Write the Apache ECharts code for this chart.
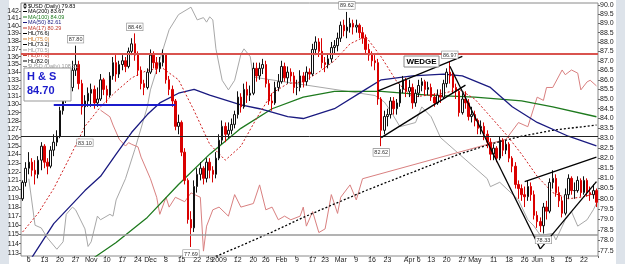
<!DOCTYPE html>
<html><head><meta charset="utf-8">
<script src="https://cdn.jsdelivr.net/npm/echarts@6.0.0/dist/echarts.min.js"></script>
<style>html,body{margin:0;padding:0;background:#fff;overflow:hidden}#c{width:625px;height:264px}</style>
</head><body><div id="c"></div><script>
// ---------- data ----------
const tradingDays = {
 '2008-10':[2,3,6,7,8,9,10,13,14,15,16,17,20,21,22,23,24,27,28,29,30,31],
 '2008-11':[3,4,5,6,7,10,11,12,13,14,17,18,19,20,21,24,25,26,28],
 '2008-12':[1,2,3,4,5,8,9,10,11,12,15,16,17,18,19,22,23,24,26,29,30,31],
 '2009-01':[2,5,6,7,8,9,12,13,14,15,16,20,21,22,23,26,27,28,29,30],
 '2009-02':[2,3,4,5,6,9,10,11,12,13,17,18,19,20,23,24,25,26,27],
 '2009-03':[2,3,4,5,6,9,10,11,12,13,16,17,18,19,20,23,24,25,26,27,30,31],
 '2009-04':[1,2,3,6,7,8,9,13,14,15,16,17,20,21,22,23,24,27,28,29,30],
 '2009-05':[1,4,5,6,7,8,11,12,13,14,15,18,19,20,21,22,26,27,28,29],
 '2009-06':[1,2,3,4,5,8,9,10,11,12,15,16,17,18,19,22,23,24,25,26]
};
const tickLabels = [['2008-10-06','6'],['2008-10-13','13'],['2008-10-20','20'],['2008-10-27','27'],['2008-11-03','Nov'],['2008-11-10','10'],['2008-11-17','17'],['2008-11-24','24'],['2008-12-01','Dec'],['2008-12-08','8'],['2008-12-15','15'],['2008-12-22','22'],['2008-12-29','29'],['2009-01-02','2009'],['2009-01-12','12'],['2009-01-20','20'],['2009-01-26','26'],['2009-02-02','Feb'],['2009-02-09','9'],['2009-02-17','17'],['2009-02-23','23'],['2009-03-02','Mar'],['2009-03-09','9'],['2009-03-16','16'],['2009-03-23','23'],['2009-04-01','Apr'],['2009-04-06','6'],['2009-04-13','13'],['2009-04-20','20'],['2009-04-27','27'],['2009-05-01','May'],['2009-05-11','11'],['2009-05-18','18'],['2009-05-26','26'],['2009-06-01','Jun'],['2009-06-08','8'],['2009-06-15','15'],['2009-06-22','22']];
const rightTicks = [77.5,78.0,78.5,79.0,79.5,80.0,80.5,81.0,81.5,82.0,82.5,83.0,83.5,84.0,84.5,85.0,85.5,86.0,86.5,87.0,87.5,88.0,88.5,89.0,89.5,90.0];
const leftTicks = [113,114,115,116,117,118,119,120,121,122,123,124,125,126,127,128,129,130,131,132,133,134,135,136,137,138,139,140,141,142];
// [open, close, low, high]
const ohlc = [
[80.0,80.8,79.9,80.9],[80.8,81.5,80.6,81.8],[81.5,81.8,81.2,82.3],[81.8,81.4,81.1,82.0],[81.4,81.2,80.7,81.9],[81.2,81.9,81.0,82.1],[81.9,82.6,81.4,82.8],[82.6,81.8,81.5,82.7],[81.8,81.6,81.2,82.0],[81.6,82.4,81.5,82.6],
[82.4,82.8,82.1,83.2],[82.8,83.1,82.6,83.4],[83.1,84.4,83.0,84.6],[84.4,85.2,84.2,85.5],[85.2,86.0,84.8,86.3],[86.0,85.6,85.2,86.4],[85.6,86.5,85.4,87.0],[86.5,86.8,86.2,87.8],[86.8,85.8,85.5,87.0],[85.8,84.6,84.2,86.0],
[84.6,84.9,83.1,85.2],[84.9,85.3,84.6,85.6],[85.3,85.5,84.6,85.8],[85.5,84.8,84.5,85.7],[84.8,85.0,84.6,85.6],[85.0,86.0,84.9,86.3],[86.0,85.5,85.2,86.1],[85.5,85.2,84.8,85.7],[85.2,86.2,85.1,86.4],[86.2,86.9,86.0,87.2],
[86.9,86.3,85.9,87.3],[86.3,86.8,86.1,87.0],[86.8,87.0,86.5,87.3],[87.0,86.7,86.4,87.2],[86.7,87.5,86.6,87.7],[87.5,87.9,87.3,88.2],[87.9,87.3,87.0,88.46],[87.3,86.5,86.2,87.5],[86.5,85.8,85.5,86.7],[85.8,85.6,85.2,86.0],
[85.6,86.4,85.5,86.6],[86.4,87.3,86.3,87.6],[87.3,86.9,86.6,87.5],[86.9,86.6,86.3,87.2],[86.6,86.9,86.4,87.2],[86.9,87.3,86.7,87.6],[87.3,86.0,85.8,87.4],[86.0,85.5,85.2,86.2],[85.5,84.9,84.6,85.7],[84.9,83.6,83.4,85.0],
[83.6,83.8,83.2,84.2],[83.8,82.3,82.1,83.9],[82.3,80.9,80.7,82.5],[80.9,79.0,78.8,81.0],[79.0,78.6,77.69,79.4],[78.6,80.6,78.4,80.9],[80.6,81.2,80.3,81.5],[81.2,81.5,80.9,81.8],[81.5,81.0,80.7,81.6],[81.0,81.8,80.8,82.0],
[81.8,81.4,81.0,82.0],[81.4,81.2,80.8,81.6],[81.2,82.0,81.0,82.3],[82.0,82.9,81.9,83.2],[82.9,83.6,82.7,83.9],[83.6,83.2,82.8,83.8],[83.2,83.4,83.0,83.8],[83.4,83.7,83.2,84.0],[83.7,84.2,83.5,84.4],[84.2,85.1,84.0,85.4],
[85.1,84.6,84.3,85.3],[84.6,85.5,84.5,85.8],[85.5,85.2,84.8,85.9],[85.2,85.3,84.9,85.7],[85.3,86.6,85.2,86.9],[86.6,86.2,85.9,86.9],[86.2,86.6,86.0,86.9],[86.6,86.8,86.3,87.1],[86.8,85.8,85.6,87.0],[85.8,84.9,84.7,86.0],
[84.9,84.8,84.4,85.3],[84.8,85.6,84.7,85.9],[85.6,85.9,85.4,86.3],[85.9,86.7,85.8,87.0],[86.7,86.1,85.9,86.9],[86.1,86.4,85.8,86.7],[86.4,86.2,85.9,86.6],[86.2,85.6,85.3,86.4],[85.6,85.6,85.2,86.0],[85.6,86.2,85.4,86.5],
[86.2,85.9,85.6,86.4],[85.9,86.4,85.7,86.7],[86.4,86.3,86.0,86.6],[86.3,87.6,86.2,87.9],[87.6,88.0,87.3,88.3],[88.0,87.5,87.2,88.2],[87.5,86.9,86.6,88.2],[86.9,86.8,86.4,87.2],[86.8,87.1,86.6,87.4],[87.1,87.7,86.9,88.0],
[87.7,87.8,87.4,88.1],[87.8,88.2,87.5,88.5],[88.2,88.9,88.0,89.1],[88.9,88.6,88.3,89.2],[88.6,88.8,88.2,89.62],[88.8,89.0,88.5,89.3],[89.0,88.8,88.4,89.2],[88.8,88.9,88.5,89.2],[88.9,88.5,88.2,89.0],[88.5,88.2,87.9,88.8],
[88.2,87.6,87.4,88.4],[87.6,87.3,87.0,87.9],[87.3,87.0,86.7,87.5],[87.0,86.9,86.5,87.3],[86.9,85.0,84.7,87.1],[85.0,83.4,82.6,85.1],[83.4,84.1,83.2,84.4],[84.1,84.2,83.6,84.5],[84.2,84.9,84.0,85.1],[84.9,84.5,84.2,85.1],
[84.5,84.8,84.2,85.0],[84.8,85.5,84.6,85.8],[85.5,86.0,85.3,86.2],[86.0,85.4,85.1,86.1],[85.4,85.6,85.1,86.0],[85.6,84.8,84.5,85.8],[84.8,85.3,84.6,85.5],[85.3,85.7,85.1,86.0],[85.7,85.9,85.4,86.1],[85.9,85.5,85.2,86.0],
[85.5,85.6,85.2,85.9],[85.6,85.1,84.9,85.8],[85.1,84.8,84.6,85.3],[84.8,85.2,84.7,85.5],[85.2,85.1,84.8,85.5],[85.1,85.8,85.0,86.0],[85.8,86.4,85.6,86.6],[86.4,86.2,85.8,86.97],[86.2,85.6,85.3,86.4],[85.6,85.4,85.0,85.8],
[85.4,84.3,84.1,85.5],[84.3,85.0,84.2,85.3],[85.0,84.8,84.5,85.4],[84.8,84.1,83.9,85.0],[84.1,84.2,83.8,84.6],[84.2,83.9,83.6,84.4],[83.9,83.5,83.2,84.0],[83.5,83.6,83.2,83.9],[83.6,83.2,82.9,83.8],[83.2,82.8,82.5,83.4],
[82.8,82.2,81.9,83.0],[82.2,82.5,81.9,82.7],[82.5,82.0,81.8,82.6],[82.0,82.9,81.9,83.1],[82.9,82.4,82.1,83.0],[82.4,82.7,82.2,82.9],[82.7,82.0,81.8,82.8],[82.0,81.6,81.3,82.1],[81.6,80.7,80.5,81.8],[80.7,80.5,80.0,80.9],
[80.5,80.2,79.9,80.7],[80.2,80.1,79.6,80.6],[80.1,80.6,79.9,80.9],[80.6,80.2,79.9,80.8],[80.2,79.2,79.0,80.4],[79.2,78.9,78.6,79.4],[78.9,78.7,78.4,79.1],[78.7,79.6,78.33,79.8],[79.6,79.4,79.0,79.9],[79.4,80.8,79.3,81.0],
[80.8,81.0,80.5,81.4],[81.0,80.3,80.1,81.2],[80.3,79.9,79.6,80.6],[79.9,79.3,79.1,80.1],[79.3,80.2,79.2,80.5],[80.2,81.0,80.0,81.2],[81.0,80.4,80.2,81.1],[80.4,80.4,80.0,80.8],[80.4,80.9,80.3,81.1],[80.9,80.3,80.1,81.0],
[80.3,80.9,80.2,81.1],[80.9,80.3,80.1,81.0],[80.3,80.2,79.9,80.6],[80.2,80.4,80.0,80.7],[80.4,79.83,79.6,80.5]
];
// moving averages, read at vertices [dayIndex, value]
const ma200 = [[60,77.0],[62,77.25],[70,77.75],[80,78.4],[90,79.1],[100,79.75],[110,80.4],[120,81.0],[130,81.6],[140,82.2],[150,82.7],[160,83.1],[170,83.4],[184,83.67]];
const ma100 = [[23,77.2],[30,77.9],[40,79.1],[50,80.7],[60,82.2],[70,83.5],[80,84.5],[90,85.1],[100,85.4],[115,85.4],[130,85.2],[145,85.1],[160,84.9],[170,84.6],[184,84.09]];
const ma50 = [[3,77.2],[10,78.8],[20,80.4],[25,81.1],[30,82.2],[35,83.3],[40,84.2],[44,84.8],[50,85.3],[55,85.5],[60,85.2],[70,84.7],[76,84.5],[85,84.1],[90,84.0],[100,84.5],[110,85.5],[115,86.0],[125,86.2],[135,86.3],[141,86.2],[150,85.6],[157,84.6],[165,83.8],[175,83.1],[184,82.61]];
const ma17 = [[0,78.4],[5,79.3],[10,80.5],[15,82.0],[20,83.6],[25,84.6],[30,85.4],[35,86.1],[40,86.5],[45,86.6],[50,86.0],[55,84.4],[60,82.7],[65,81.9],[70,82.6],[75,84.0],[80,85.3],[85,85.8],[90,85.9],[95,86.4],[100,87.0],[105,87.9],[110,88.3],[115,87.2],[120,85.9],[125,85.1],[130,85.2],[135,85.3],[140,85.5],[145,85.0],[150,84.1],[155,83.2],[160,82.2],[165,81.1],[170,80.3],[175,80.0],[180,80.1],[184,80.29]];
// overlays on left scale
const greyLine = [[2,121.2],[4,116.0],[6,115.7],[8,114.6],[11,113.4],[13,114.2],[14,117.2],[16,118.0],[17,117.7],[20,115.6],[21,113.7],[22,114.2],[24,117.0],[25,116.6],[28,117.2],[29,117.0],[30,118.8],[33,121.2],[36,124.6],[40,129.7],[41,131.8],[44,135.6],[47,139.5],[50,141.5],[54,142.5],[56,140.8],[58,141.1],[59,140.5],[60,141.2],[61,140.8],[62,137.0],[64,133.0],[66,131.8],[68,133.0],[70,136.3],[71,137.0],[73,136.0],[74,133.4],
 [113,131.1],[116,130.3],[118,129.2],[121,127.3],[126,127.8],[128,129.7],[131,128.5],[134,126.0],[149,121.2],[150,120.3],[153,120.8],[159,118.8],[162,116.6],[164,115.9],[166,114.9],[170,115.1],[171,114.4],[174,116.6],[176,117.5],[178,115.9],[181,116.6],[183,117.7],[184,118.4]];
const redLine = [[25,129.3],[28,128.5],[29,127.5],[31,125.8],[33,125.0],[34,125.4],[35,125.2],[37,124.9],[38,123.7],[41,121.2],[43,119.1],[44,117.2],[46,119.1],[47,118.0],[49,119.1],[52,118.6],[54,119.6],[57,119.1],[58,113.2],[59,115.9],[61,117.7],[63,118.0],[66,117.0],[68,119.4],[70,118.0],[74,118.4],[76,120.5],[78,117.7],[80,118.0],[82,116.6],[84,117.0],[86,116.6],[89,117.0],[90,118.0],[91,115.9],[93,117.5],[95,115.2],[97,115.6],[99,119.4],[101,117.3],[102,119.1],[105,120.5],[107,118.8],[109,121.2],[155,125.8],[159,127.8],[162,127.3],[165,130.9],[167,130.5],[168,132.1],[170,132.1],[173,134.3],[174,133.7],[176,134.3],[178,133.9],[179,131.8],[181,132.8],[182,133.0],[184,132.3]];
// horizontal lines and trend lines (value space)
const hLines = [{v:87.0,c:'#d9534f',w:2},{v:82.8,c:'#222',w:1},{v:78.5,c:'#9a9a9a',w:1.5}];
const neckline = {from:10,to:49,v:84.70};
const trendLines = [[[114,85.42],[141,87.23]],[[115,83.03],[142,85.72]],[[137,86.71],[166,77.6]],[[161,80.84],[184,82.05]],[[166,77.6],[184,80.84]]];
const priceTags = [[17,87.80,'87.80','top'],[36,88.46,'88.46','top'],[104,89.62,'89.62','top'],[137,86.97,'86.97','top'],[54,77.69,'77.69','bottom'],[167,78.33,'78.33','bottom'],[20,83.10,'83.10','bottom'],[115,82.61,'82.62','bottom']];
const legendItems = [['$USD (Daily) 79.83','#000',''],['MA(200) 83.67','#000','#000'],['MA(100) 84.09','#1e7a1e','#1e7a1e'],['MA(50) 82.61','#1a1a80','#1a1a80'],['MA(17) 80.29','#c0392b','#c0392b'],['HL(76.6)','#000','#000'],['HL(75.0)','#d08030','#d08030'],['HL(73.2)','#000','#000'],['HL(70.5)','#999','#999'],['HL(87.0)','#c0392b','#c0392b'],['HL(82.0)','#000','#000'],['$USD (Daily) 108.52','#999','#999']];

// ---------- build ----------
const L = Math.log;
const dates = [];
Object.keys(tradingDays).forEach(m => tradingDays[m].forEach(d => dates.push(m + '-' + String(d).padStart(2,'0'))));
const labelMap = {}; tickLabels.forEach(t => labelMap[t[0]] = t[1]);
const candleData = ohlc.map((r, i) => {
  const prevC = i > 0 ? ohlc[i-1][1] : r[0];
  const red = r[1] < prevC;
  const col = red ? '#d90000' : '#111';
  const fill = r[1] >= r[0] ? '#ffffff' : col;
  return {value: r.map(L), itemStyle: {color: fill, color0: fill, borderColor: col, borderColor0: col}};
});
const toL = arr => arr.map(p => [p[0], L(p[1])]);
const font = 'Liberation Sans, Arial, sans-serif';

const chart = echarts.init(document.getElementById('c'), null, {renderer: 'canvas'});
const option = {
  animation: false,
  backgroundColor: '#fff',
  grid: {left: 21, right: 27, top: 3, bottom: 5, show: true, backgroundColor: '#fff', borderColor: '#8a8a8a', borderWidth: 1},
  xAxis: {type: 'category', data: dates, boundaryGap: true,
    axisLine: {show: false}, splitLine: {show: false},
    axisTick: {show: true, length: 2, inside: false, interval: (i, v) => labelMap[v] !== undefined, lineStyle: {color: '#666'}},
    axisLabel: {interval: (i, v) => labelMap[v] !== undefined, formatter: v => labelMap[v] || '', fontSize: 7, color: '#222', margin: 1, fontFamily: font}},
  yAxis: [
    {type: 'value', position: 'right', min: L(77.267), max: L(90.108), splitLine: {show: false}, axisLine: {show: false},
     axisTick: {show: true, length: 2, customValues: rightTicks.map(L), lineStyle: {color: '#666'}},
     axisLabel: {customValues: rightTicks.map(L), formatter: v => Math.exp(v).toFixed(1), fontSize: 7, color: '#222', margin: 2, fontFamily: font}},
    {type: 'value', position: 'left', min: L(112.68), max: L(143.06), splitLine: {show: false}, axisLine: {show: false},
     axisTick: {show: true, length: 2, customValues: leftTicks.map(L), lineStyle: {color: '#666'}},
     axisLabel: {customValues: leftTicks.map(L), formatter: v => String(Math.round(Math.exp(v))), fontSize: 7, color: '#222', margin: 2, fontFamily: font}}
  ],
  series: [
    {type: 'line', yAxisIndex: 1, data: toL(greyLine), showSymbol: false, lineStyle: {color: '#a8a8a8', width: 1}, z: 1, silent: true},
    {type: 'line', yAxisIndex: 1, data: toL(redLine), showSymbol: false, lineStyle: {color: '#d98080', width: 1}, z: 1, silent: true},
    {type: 'line', yAxisIndex: 0, data: toL(ma200), showSymbol: false, lineStyle: {color: '#000', width: 1.3, type: [2,2]}, z: 2, silent: true},
    {type: 'line', yAxisIndex: 0, data: toL(ma100), showSymbol: false, lineStyle: {color: '#1e7a1e', width: 1.3}, z: 2, silent: true},
    {type: 'line', yAxisIndex: 0, data: toL(ma50), showSymbol: false, lineStyle: {color: '#1a1a80', width: 1.3}, z: 2, silent: true},
    {type: 'line', yAxisIndex: 0, data: toL(ma17), showSymbol: false, lineStyle: {color: '#d02020', width: 1, type: [2,2]}, z: 2, silent: true},
    {type: 'candlestick', yAxisIndex: 0, data: candleData, barWidth: 2, z: 3, silent: true,
     markLine: {silent: true, symbol: 'none', label: {show: false}, animation: false,
       data: hLines.map(h => ({yAxis: L(h.v), lineStyle: {color: h.c, width: h.w, type: 'solid'}}))
         .concat([[{coord: [neckline.from, L(neckline.v)], lineStyle: {color: '#1c1ccc', width: 2, type: 'solid'}}, {coord: [neckline.to, L(neckline.v)]}]])
         .concat(trendLines.map(t => [{coord: [t[0][0], L(t[0][1])], lineStyle: {color: '#000', width: 1.3, type: 'solid'}}, {coord: [t[1][0], L(t[1][1])]}]))},
     markPoint: {silent: true, symbol: 'rect', symbolSize: 0,
       data: priceTags.map(p => ({coord: [p[0], L(p[1])], label: {show: true, formatter: p[2], position: p[3], distance: 3,
          fontSize: 5.5, color: '#333', backgroundColor: '#fff', borderColor: '#888', borderWidth: 0.6, padding: [1,1,0,1], fontFamily: font}}))}}
  ],
  graphic: []
};
// legend / annotations
const g = [];
g.push({type: 'rect', shape: {x: 0, y: 0, width: 9, height: 264}, style: {fill: '#dde3ea'}, silent: true});
g.push({type: 'rect', shape: {x: 616, y: 0, width: 9, height: 264}, style: {fill: '#dde3ea'}, silent: true});
// candle icon for price legend entry
g.push({type: 'line', shape: {x1: 25, y1: 3, x2: 25, y2: 9}, style: {stroke: '#000', lineWidth: 0.8}, silent: true, z: 10});
g.push({type: 'rect', shape: {x: 24, y: 4.5, width: 2, height: 3}, style: {fill: '#fff', stroke: '#000', lineWidth: 0.8}, silent: true, z: 10});
legendItems.forEach((it, k) => {
  const y = 6 + k * 5.5;
  if (it[2]) g.push({type: 'line', shape: {x1: 23, y1: y, x2: 27, y2: y}, style: {stroke: it[2], lineWidth: 1}, silent: true, z: 10});
  g.push({type: 'text', x: 28, y: y, style: {text: it[0], fill: it[1], fontSize: 5.5, fontFamily: font, verticalAlign: 'middle'}, silent: true, z: 10});
});
g.push({type: 'rect', shape: {x: 24, y: 68, width: 47, height: 33}, style: {fill: '#fff', stroke: '#999', lineWidth: 1}, silent: true, z: 10});
g.push({type: 'text', x: 27, y: 77, style: {text: 'H & S', fill: '#1c1ccc', fontSize: 11, fontWeight: 'bold', fontFamily: font, verticalAlign: 'middle'}, silent: true, z: 11});
g.push({type: 'text', x: 27, y: 91, style: {text: '84.70', fill: '#1c1ccc', fontSize: 11, fontWeight: 'bold', fontFamily: font, verticalAlign: 'middle'}, silent: true, z: 11});
g.push({type: 'rect', shape: {x: 404, y: 56, width: 35, height: 11}, style: {fill: '#fff', stroke: '#888', lineWidth: 1}, silent: true, z: 10});
g.push({type: 'text', x: 421.5, y: 61.5, style: {text: 'WEDGE', fill: '#000', fontSize: 8, fontWeight: 'bold', fontFamily: font, align: 'center', verticalAlign: 'middle'}, silent: true, z: 11});
option.graphic = g;
chart.setOption(option);
</script></body></html>
